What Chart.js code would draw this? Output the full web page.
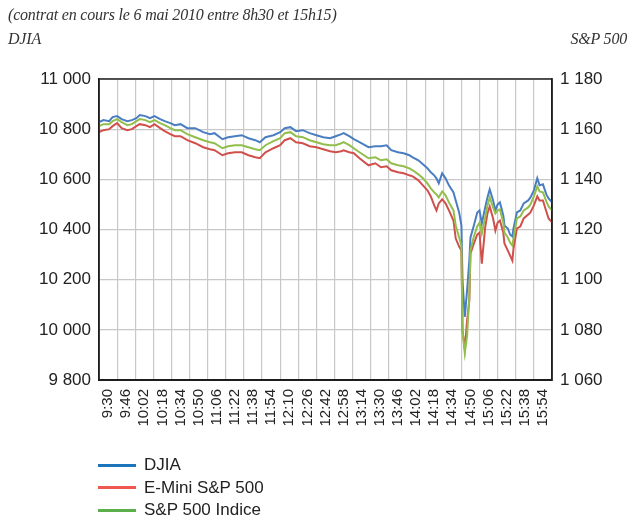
<!DOCTYPE html>
<html>
<head>
<meta charset="utf-8">
<script src="https://cdn.jsdelivr.net/npm/chart.js@4.4.1/dist/chart.umd.min.js"></script>
<style>
  html, body { margin: 0; padding: 0; background: #fff; }
  #wrap { position: relative; width: 643px; height: 517px; }
  .note { position: absolute; font-family: "Liberation Serif", serif; font-style: italic; font-size: 16px; letter-spacing: -0.2px; color: #333; white-space: nowrap; }
  #legend { position: absolute; left: 98px; top: 454px; font-family: "Liberation Sans", Arial, sans-serif; font-size: 17px; color: #222; }
  #legend div { height: 22.5px; display: flex; align-items: center; }
  #legend span.sw { display: inline-block; width: 38px; height: 3px; margin-right: 8px; }
</style>
</head>
<body>
<div id="wrap">
  <canvas id="chart" width="643" height="517"></canvas>
  <div class="note" style="left:8px; top:6px;">(contrat en cours le 6 mai 2010 entre 8h30 et 15h15)</div>
  <div class="note" style="left:8px; top:30px;">DJIA</div>
  <div class="note" style="right:16px; top:30px;">S&amp;P 500</div>
  <div id="legend"></div>
</div>
<script>
// libellés de l'axe horizontal (un toutes les 16 minutes)
const timeLabels = ["9:30","9:46","10:02","10:18","10:34","10:50","11:06","11:22","11:38","11:54",
  "12:10","12:26","12:42","12:58","13:14","13:30","13:46","14:02","14:18","14:34",
  "14:50","15:06","15:22","15:38","15:54"];

// minutes écoulées depuis 9h30
const minutes = [0,4,9,12,16,20,25,29,33,36,41,45,49,54,58,63,67,72,78,85,
  92,98,102,109,114,120,126,132,138,142,147,154,160,164,169,174,180,186,192,198,
  204,209,214,216,221,225,230,238,244,249,254,258,264,269,274,277,282,286,290,293,
  296,298,300,303,306,309,313,315,318,320,321,323,325,327,328,331,334,336,338,341,
  343,345,348,350,352,354,357,358,361,363,365,366,369,372,375,379,381,384,387,389,
  392,395,397,400];

const djia = [10828,10836,10832,10848,10852,10840,10832,10836,10844,10856,10852,10844,10852,10840,10832,10824,10816,10820,10804,10804,
  10788,10780,10784,10760,10768,10772,10776,10764,10756,10748,10768,10776,10788,10804,10808,10792,10796,10784,10776,10768,
  10764,10772,10780,10784,10772,10760,10748,10728,10732,10732,10736,10716,10708,10704,10696,10688,10676,10660,10644,10628,
  10616,10604,10584,10624,10604,10576,10548,10516,10468,10416,10196,10052,10156,10276,10368,10416,10468,10476,10424,10488,
  10528,10560,10516,10476,10500,10508,10456,10416,10404,10380,10372,10404,10468,10476,10504,10516,10528,10556,10604,10576,
  10580,10540,10524,10508];

const eminiSP = [1158.8,1159.6,1160.0,1161.2,1162.4,1160.4,1159.6,1160.0,1161.2,1162.0,1161.6,1160.8,1162.0,1160.4,1159.2,1158.0,1157.2,1157.2,1155.6,1154.4,
  1152.8,1152.0,1151.6,1149.6,1150.4,1150.8,1150.8,1149.6,1148.8,1148.4,1150.8,1152.4,1153.6,1155.6,1156.4,1154.8,1154.4,1153.2,1152.8,1152.0,
  1151.2,1150.8,1151.2,1151.6,1150.8,1150.4,1148.4,1145.6,1146.4,1144.8,1145.2,1143.6,1142.8,1142.4,1141.6,1141.2,1139.6,1137.6,1135.6,1133.2,
  1129.6,1127.6,1130.4,1132.0,1130.4,1127.6,1123.6,1116.4,1113.2,1111.6,1079.6,1072.4,1083.6,1091.6,1110.4,1114.4,1118.0,1118.8,1106.4,1120.8,
  1126.4,1129.2,1124.4,1119.6,1122.8,1123.6,1118.8,1114.4,1111.6,1109.6,1107.6,1112.4,1120.4,1121.2,1124.4,1126.0,1126.8,1129.6,1133.2,1131.6,
  1131.6,1127.2,1124.4,1122.8];

const sp500 = [1161.2,1162.0,1162.0,1163.2,1164.0,1162.8,1161.6,1162.0,1163.2,1164.0,1163.6,1162.8,1163.6,1162.4,1161.6,1160.4,1159.6,1159.6,1158.0,1156.8,
  1155.6,1154.8,1154.4,1152.4,1153.2,1153.6,1153.6,1152.8,1152.0,1151.6,1153.6,1155.2,1156.4,1158.4,1158.8,1157.2,1156.8,1155.6,1154.8,1154.0,
  1153.6,1153.6,1154.4,1154.8,1153.6,1152.4,1150.8,1148.4,1148.8,1147.6,1148.0,1146.4,1145.6,1145.2,1144.4,1143.6,1142.0,1140.4,1138.4,1136.4,
  1134.8,1134.0,1132.8,1135.2,1133.6,1130.8,1127.6,1121.6,1116.8,1113.6,1079.6,1070.8,1077.6,1093.6,1111.6,1117.2,1121.2,1122.8,1118.4,1124.8,
  1129.6,1132.8,1128.8,1126.4,1127.6,1128.0,1122.8,1118.8,1116.8,1114.8,1113.6,1116.4,1124.4,1125.2,1127.6,1128.8,1130.0,1133.2,1137.2,1135.2,
  1134.8,1131.2,1129.2,1127.6];

const seriesNames = ["DJIA", "E-Mini S&P 500", "S&P 500 Indice"];
const lineColors = ["#4a7ec1", "#d0504c", "#92be4c"];
const legendColors = ["#1a75bc", "#f0584f", "#5cb04c"];

function pts(vals) {
  return vals.map((v, i) => ({ x: minutes[i], y: v }));
}

// séparateur de milliers : espace
function fmt(n) {
  return String(n).replace(/\B(?=(\d{3})+(?!\d))/g, " ");
}

// cadre autour de la zone de tracé
const frame = {
  id: "frame",
  afterDraw(chart) {
    const a = chart.chartArea, c = chart.ctx;
    c.save();
    c.strokeStyle = "#222";
    c.lineWidth = 1.5;
    c.strokeRect(a.left, a.top, a.right - a.left, a.bottom - a.top);
    c.restore();
  }
};

const ctx = document.getElementById("chart").getContext("2d");
new Chart(ctx, {
  type: "line",
  data: {
    datasets: [
      { label: seriesNames[0], data: pts(djia), yAxisID: "y", borderColor: lineColors[0], order: 2 },
      { label: seriesNames[1], data: pts(eminiSP), yAxisID: "y1", borderColor: lineColors[1], order: 1 },
      { label: seriesNames[2], data: pts(sp500), yAxisID: "y1", borderColor: lineColors[2], order: 0 }
    ]
  },
  options: {
    responsive: false,
    animation: false,
    layout: { padding: { top: 79, bottom: 67, left: 0, right: 0 } },
    elements: { point: { radius: 0 }, line: { borderWidth: 2, tension: 0 } },
    plugins: { legend: { display: false }, tooltip: { enabled: false } },
    scales: {
      x: {
        type: "linear",
        min: 0,
        max: 400,
        afterBuildTicks(scale) {
          scale.ticks = timeLabels.map((t, i) => ({ value: 8 + 16 * i }));
        },
        afterFit(scale) { scale.height = 70; },
        grid: { offset: true, color: "#c8c8c8", lineWidth: 1.2, drawTicks: false },
        border: { color: "#111", width: 2 },
        ticks: {
          autoSkip: false,
          minRotation: 90,
          maxRotation: 90,
          padding: 9,
          color: "#222",
          font: { family: "Liberation Sans", size: 15 },
          callback: (v, i) => timeLabels[i]
        }
      },
      y: {
        position: "left",
        min: 9800,
        max: 11000,
        afterFit(scale) { scale.width = 99; },
        grid: { color: "#c8c8c8", lineWidth: 1.2, drawTicks: false },
        border: { color: "#111", width: 1.5 },
        ticks: {
          stepSize: 200,
          padding: 8,
          color: "#222",
          font: { family: "Liberation Sans", size: 17 },
          callback: v => fmt(v)
        }
      },
      y1: {
        position: "right",
        min: 1060,
        max: 1180,
        afterFit(scale) { scale.width = 91; },
        grid: { drawOnChartArea: false, drawTicks: false },
        border: { color: "#111", width: 1.5 },
        ticks: {
          stepSize: 20,
          padding: 8,
          color: "#222",
          font: { family: "Liberation Sans", size: 17 },
          callback: v => fmt(v)
        }
      }
    }
  },
  plugins: [frame]
});

// légende verticale sous le graphique
const legend = document.getElementById("legend");
seriesNames.forEach((name, i) => {
  const row = document.createElement("div");
  const sw = document.createElement("span");
  sw.className = "sw";
  sw.style.background = legendColors[i];
  row.appendChild(sw);
  row.appendChild(document.createTextNode(name));
  legend.appendChild(row);
});
</script>
</body>
</html>
